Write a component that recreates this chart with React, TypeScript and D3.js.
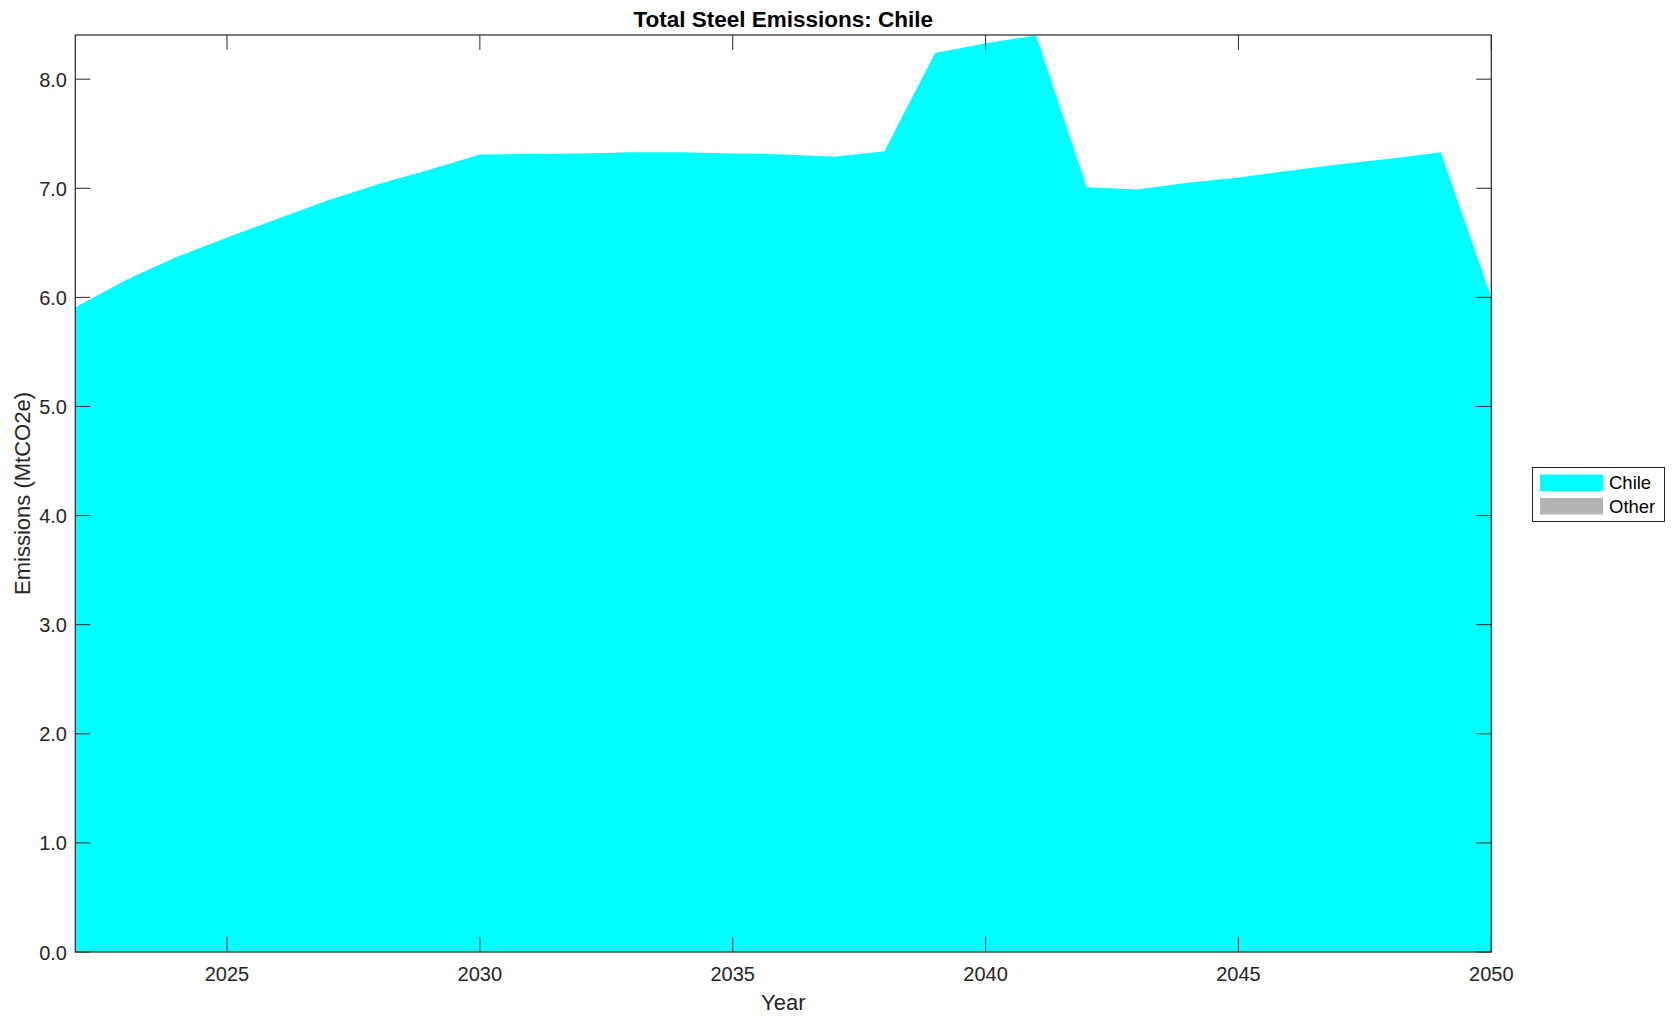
import React from "react";
import * as d3 from "d3";

const years = [2022, 2023, 2024, 2025, 2026, 2027, 2028, 2029, 2030, 2031, 2032, 2033, 2034, 2035, 2036, 2037, 2038, 2039, 2040, 2041, 2042, 2043, 2044, 2045, 2046, 2047, 2048, 2049, 2050];
const chile = [5.91, 6.16, 6.37, 6.55, 6.72, 6.89, 7.04, 7.17, 7.31, 7.315, 7.32, 7.33, 7.33, 7.32, 7.31, 7.29, 7.34, 8.24, 8.33, 8.40, 7.01, 6.99, 7.05, 7.10, 7.16, 7.22, 7.27, 7.33, 6.0];
const other = [0, 0, 0, 0, 0, 0, 0, 0, 0, 0, 0, 0, 0, 0, 0, 0, 0, 0, 0, 0, 0, 0, 0, 0, 0, 0, 0, 0, 0];
const seriesNames = ["Chile", "Other"];
const seriesColors = ["#00FFFF", "#B3B3B3"];
const xTicks = [2025, 2030, 2035, 2040, 2045, 2050];
const yTicks = [0, 1, 2, 3, 4, 5, 6, 7, 8];
const titleText = "Total Steel Emissions: Chile";
const xLabel = "Year";
const yLabel = "Emissions (MtCO2e)";

export default function App() {
  const W = 1675, H = 1021;
  const left = 75.3, right = 1491.3, top = 35, bottom = 952;
  const x = d3.scaleLinear().domain([2022, 2050]).range([left, right]);
  const y = d3.scaleLinear().domain([0, 8.405]).range([bottom, top]);
  const rows = years.map((yr, i) => ({ year: yr, Chile: chile[i], Other: other[i] }));
  const stacked = d3.stack<any>().keys(seriesNames)(rows);
  const area = d3.area<any>()
    .x((d) => x(d.data.year))
    .y0((d) => y(d[0]))
    .y1((d) => y(d[1]));
  const font = "'Liberation Sans', Arial, Helvetica, sans-serif";
  const tickColor = "#262626";
  const tl = 15;
  return (
    <svg width={W} height={H} style={{ position: "absolute", left: 0, top: 0, background: "#fff" }} fontFamily={font}>
      <rect x={0} y={0} width={W} height={H} fill="#fff" />
      {stacked.map((s, i) => (
        <path key={seriesNames[i]} d={area(s) || ""} fill={seriesColors[i]} stroke="none" />
      ))}
      {/* axes box */}
      <rect x={left} y={top} width={right - left} height={bottom - top} fill="none" stroke={tickColor} strokeWidth={1.2} />
      {xTicks.map((t) => (
        <g key={"x" + t}>
          <line x1={x(t)} x2={x(t)} y1={bottom} y2={bottom - tl} stroke={tickColor} strokeWidth={1} />
          <line x1={x(t)} x2={x(t)} y1={top} y2={top + tl} stroke={tickColor} strokeWidth={1} />
          <text x={x(t)} y={981} textAnchor="middle" fontSize={20} fill={tickColor}>{t}</text>
        </g>
      ))}
      {yTicks.map((t) => (
        <g key={"y" + t}>
          <line x1={left} x2={left + tl} y1={y(t)} y2={y(t)} stroke={tickColor} strokeWidth={1} />
          <line x1={right} x2={right - tl} y1={y(t)} y2={y(t)} stroke={tickColor} strokeWidth={1} />
          <text x={67} y={y(t) + 7.5} textAnchor="end" fontSize={20} fill={tickColor}>{d3.format(".1f")(t)}</text>
        </g>
      ))}
      <text x={(left + right) / 2} y={27} textAnchor="middle" fontSize={22.5} fontWeight="bold" fill="#000">{titleText}</text>
      <text x={(left + right) / 2} y={1010} textAnchor="middle" fontSize={22} fill={tickColor}>{xLabel}</text>
      <text transform={`translate(30,${(top + bottom) / 2}) rotate(-90)`} textAnchor="middle" fontSize={22} fill={tickColor}>{yLabel}</text>
      {/* legend */}
      <rect x={1532.5} y={467.5} width={132} height={54} fill="#fff" stroke={tickColor} strokeWidth={1} />
      {seriesNames.map((n, i) => (
        <g key={"lg" + n}>
          <rect x={1540} y={474.5 + i * 23.5} width={63} height={16.5} fill={seriesColors[i]} />
          <text x={1609} y={489 + i * 23.5} fontSize={18.5} fill="#000">{n}</text>
        </g>
      ))}
    </svg>
  );
}
